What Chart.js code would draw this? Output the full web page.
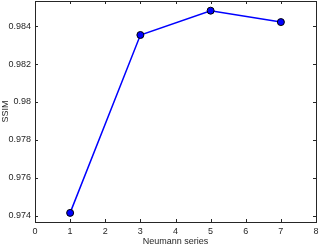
<!DOCTYPE html>
<html><head><meta charset="utf-8">
<script src="https://cdn.jsdelivr.net/npm/chart.js@4.4.0/dist/chart.umd.min.js"></script>
<style>html,body{margin:0;padding:0;background:#fff;}canvas{display:block;}</style>
</head><body>
<canvas id="c" width="319" height="247"></canvas>
<script>
const xValues = [1, 3, 5, 7];
const ssimValues = [0.97416, 0.98353, 0.98481, 0.98421];
const xTicks = [0, 1, 2, 3, 4, 5, 6, 7, 8];
const yTicks = [0.974, 0.976, 0.978, 0.98, 0.982, 0.984];
const yTickLabels = ['0.974', '0.976', '0.978', '0.98', '0.982', '0.984'];
const xTitle = 'Neumann series';
const yTitle = 'SSIM';

const axisColor = '#262626';
const fontFam = '"Liberation Sans", Arial, sans-serif';
const noPad = () => ({ left: 0, top: 0, right: 0, bottom: 0 });

const innerTicks = {
  id: 'innerTicks',
  afterDraw(chart) {
    const ctx = chart.ctx, a = chart.chartArea;
    const xs = chart.scales.x, ys = chart.scales.y;
    const L = 3;
    ctx.save();
    ctx.strokeStyle = axisColor;
    ctx.lineWidth = 1;
    ctx.beginPath();
    xTicks.forEach(v => {
      const p = Math.round(xs.getPixelForValue(v)) + 0.5;
      ctx.moveTo(p, a.bottom); ctx.lineTo(p, a.bottom - L);
      ctx.moveTo(p, a.top); ctx.lineTo(p, a.top + L);
    });
    yTicks.forEach(v => {
      const p = Math.round(ys.getPixelForValue(v)) + 0.5;
      ctx.moveTo(a.left, p); ctx.lineTo(a.left + L, p);
      ctx.moveTo(a.right, p); ctx.lineTo(a.right - L, p);
    });
    ctx.stroke();
    ctx.strokeRect(Math.round(a.left) + 0.5, Math.round(a.top) + 0.5,
                   Math.round(a.right - a.left), Math.round(a.bottom - a.top));
    ctx.restore();
  }
};

new Chart(document.getElementById('c'), {
  type: 'line',
  data: {
    datasets: [{
      data: xValues.map((x, i) => ({ x: x, y: ssimValues[i] })),
      borderColor: '#0000ff',
      borderWidth: 1.5,
      backgroundColor: '#0000ff',
      pointBackgroundColor: '#0000ff',
      pointBorderColor: '#000000',
      pointBorderWidth: 1,
      pointRadius: 3.5,
      tension: 0,
      clip: false
    }]
  },
  options: {
    responsive: false,
    animation: false,
    events: [],
    layout: { autoPadding: false, padding: { top: 1, right: 3, left: 0, bottom: 0 } },
    plugins: { legend: { display: false }, tooltip: { enabled: false } },
    scales: {
      x: {
        type: 'linear', min: 0, max: 8,
        afterBuildTicks: s => { s.ticks = xTicks.map(v => ({ value: v })); },
        afterFit: s => { s.height = 25; s.paddingLeft = 0; s.paddingRight = 0; s.getPadding = noPad; },
        grid: { display: false, drawTicks: false },
        border: { display: false },
        ticks: { color: axisColor, font: { family: fontFam, size: 9 }, padding: 4, maxRotation: 0, autoSkip: false },
        title: { display: true, text: xTitle, color: axisColor, font: { family: fontFam, size: 9 }, padding: { top: 0, bottom: 0 } }
      },
      y: {
        type: 'linear', min: 0.97368, max: 0.98532,
        afterBuildTicks: s => { s.ticks = yTicks.map(v => ({ value: v })); },
        afterFit: s => { s.width = 35; s.paddingTop = 0; s.paddingBottom = 0; s.getPadding = noPad; },
        grid: { display: false, drawTicks: false },
        border: { display: false },
        ticks: {
          color: axisColor, font: { family: fontFam, size: 9 }, padding: 4, autoSkip: false,
          callback: (v) => { const i = yTicks.findIndex(t => Math.abs(t - v) < 1e-9); return i >= 0 ? yTickLabels[i] : ''; }
        },
        title: { display: true, text: yTitle, color: axisColor, font: { family: fontFam, size: 9 }, padding: { top: 0, bottom: 0 } }
      }
    }
  },
  plugins: [innerTicks]
});
</script>
</body></html>
